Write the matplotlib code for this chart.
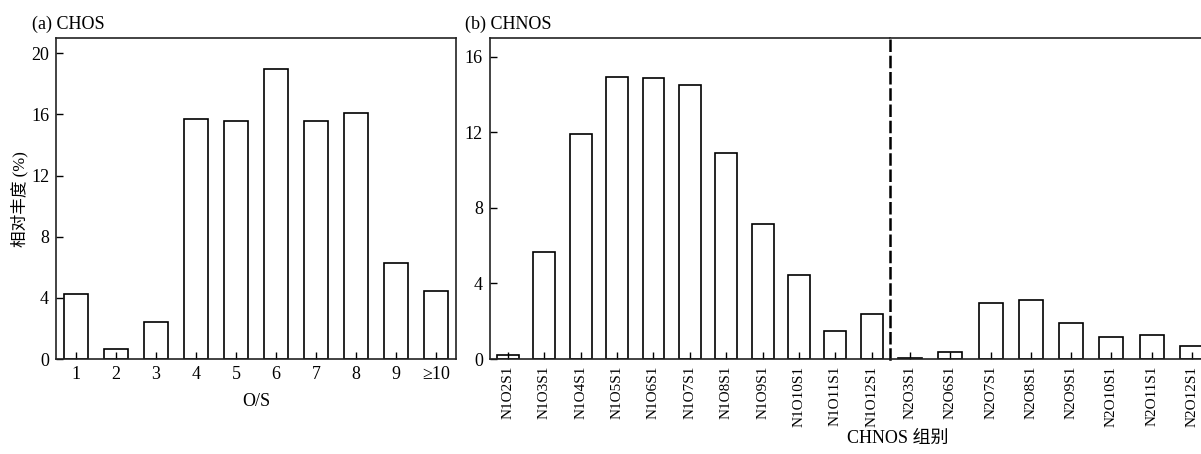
import matplotlib.pyplot as plt

plt.rcParams["font.family"] = ["Liberation Serif", "Noto Sans CJK SC"]
plt.rcParams["axes.linewidth"] = 1.2

# (a) CHOS: relative abundance by O/S ratio
os_labels = ["1", "2", "3", "4", "5", "6", "7", "8", "9", "≥10"]
chos_values = [4.27, 0.63, 2.44, 15.67, 15.58, 18.98, 15.58, 16.08, 6.27, 4.47]

# (b) CHNOS: N1 and N2 groups
n1_labels = ["N1O2S1", "N1O3S1", "N1O4S1", "N1O5S1", "N1O6S1", "N1O7S1",
             "N1O8S1", "N1O9S1", "N1O10S1", "N1O11S1", "N1O12S1"]
n1_values = [0.23, 5.66, 11.9, 14.94, 14.87, 14.53, 10.92, 7.16, 4.44, 1.46, 2.40]
n2_labels = ["N2O3S1", "N2O6S1", "N2O7S1", "N2O8S1", "N2O9S1",
             "N2O10S1", "N2O11S1", "N2O12S1"]
n2_values = [0.05, 0.37, 2.98, 3.14, 1.92, 1.18, 1.27, 0.70]

W, H = 1201, 454
fig = plt.figure(figsize=(W / 100, H / 100), dpi=100)


def px_axes(x0, x1, y0=38, y1=359):
    return fig.add_axes([x0 / W, 1 - y1 / H, (x1 - x0) / W, (y1 - y0) / H])


def style(ax):
    ax.tick_params(direction="in", length=5, width=1, labelsize=13, pad=5)
    for s in ax.spines.values():
        s.set_color("#222222")


def bars(ax, labels, values, rot=0, fs=13):
    x = range(len(labels))
    ax.bar(x, values, width=0.6, facecolor="white", edgecolor="black", linewidth=1.2)
    ax.set_xticks(list(x))
    ax.set_xticklabels(labels, rotation=rot, fontsize=fs)
    ax.set_xlim(-0.5, len(labels) - 0.5)


# panel (a)
ax_a = px_axes(56, 456)
style(ax_a)
bars(ax_a, os_labels, chos_values)
ax_a.set_ylim(0, 21)
ax_a.set_yticks([0, 4, 8, 12, 16, 20])

# panel (b), N1 part
ax_b1 = px_axes(489.7, 890)
style(ax_b1)
bars(ax_b1, n1_labels, n1_values, rot=90, fs=11)
ax_b1.set_ylim(0, 17)
ax_b1.set_yticks([0, 4, 8, 12, 16])
ax_b1.spines["right"].set_visible(False)

# panel (b), N2 part with dashed divider
ax_b2 = px_axes(890, 1212)
style(ax_b2)
bars(ax_b2, n2_labels, n2_values, rot=90, fs=11)
ax_b2.set_ylim(0, 17)
ax_b2.tick_params(axis="y", left=False, labelleft=False)
ax_b2.spines["left"].set_linestyle((0, (4, 2.5)))
ax_b2.spines["left"].set_linewidth(1.8)
ax_b2.spines["left"].set_color("black")

fig.text(32 / W, 1 - 28.5 / H, "(a) CHOS", fontsize=13, va="baseline")
fig.text(465 / W, 1 - 28.5 / H, "(b) CHNOS", fontsize=13, va="baseline")
fig.text(20 / W, 1 - 199 / H, "相对丰度 (%)", fontsize=12, rotation=90,
         ha="center", va="center")
fig.text(256 / W, 1 - 402 / H, "O/S", fontsize=13, ha="center", va="center")
fig.text(898 / W, 1 - 438 / H, "CHNOS 组别", fontsize=13, ha="center", va="center")

fig.savefig("out.png", dpi=100)
plt.close(fig)
